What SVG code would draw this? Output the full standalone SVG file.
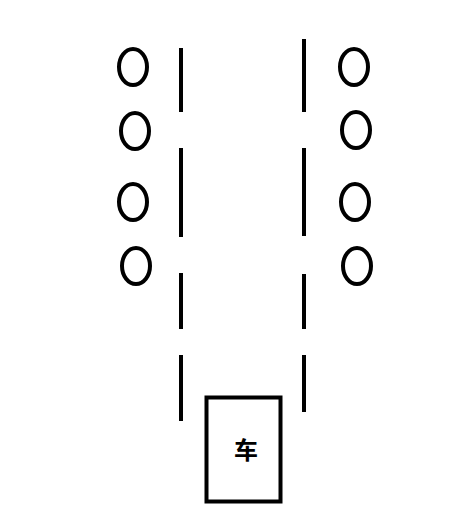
<svg xmlns="http://www.w3.org/2000/svg" width="451" height="511" viewBox="0 0 451 511">
<style>
.o{fill:none;stroke:#000;stroke-width:4}
.l{stroke:#000;stroke-width:4;stroke-linecap:butt}
.t{font-family:"Noto Sans CJK SC","Noto Sans",sans-serif;font-size:24px;font-weight:bold;fill:#000}
</style>
<rect width="451" height="511" fill="#fff"/>
<g id="lanes">
<line class="l" x1="181" y1="48" x2="181" y2="112"/>
<line class="l" x1="181" y1="148" x2="181" y2="237"/>
<line class="l" x1="181" y1="273" x2="181" y2="329"/>
<line class="l" x1="181" y1="355" x2="181" y2="421"/>
<line class="l" x1="304" y1="39" x2="304" y2="112"/>
<line class="l" x1="304" y1="148" x2="304" y2="236"/>
<line class="l" x1="304" y1="274" x2="304" y2="329"/>
<line class="l" x1="304" y1="355" x2="304" y2="412"/>
</g>
<g id="left-circles">
<ellipse class="o" cx="133" cy="67" rx="14" ry="18"/>
<ellipse class="o" cx="135" cy="131" rx="14" ry="18"/>
<ellipse class="o" cx="133" cy="202" rx="14" ry="18"/>
<ellipse class="o" cx="136" cy="266" rx="14" ry="18"/>
</g>
<g id="right-circles">
<ellipse class="o" cx="354" cy="67" rx="14" ry="18"/>
<ellipse class="o" cx="356" cy="130" rx="14" ry="18"/>
<ellipse class="o" cx="355" cy="202" rx="14" ry="18"/>
<ellipse class="o" cx="357" cy="266" rx="14" ry="18"/>
</g>
<g id="car">
<rect class="o" x="206.5" y="397.5" width="74" height="104" stroke-width="5"/>
<text class="t" x="246" y="459" text-anchor="middle">车</text>
</g>
</svg>
